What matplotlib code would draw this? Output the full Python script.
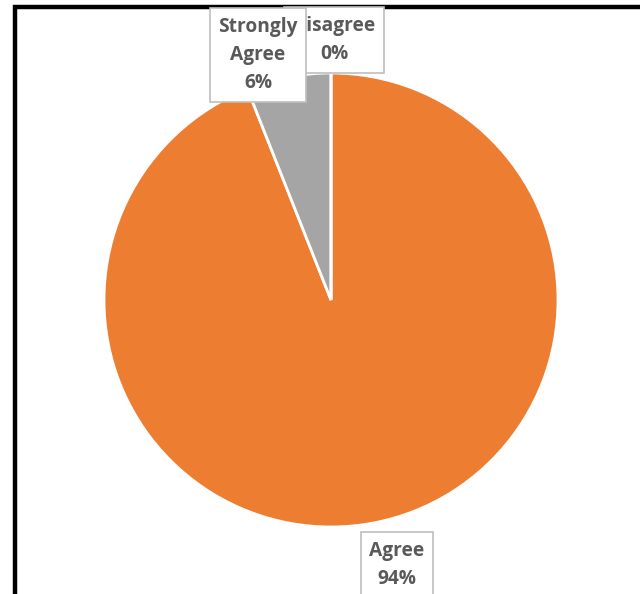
import matplotlib
matplotlib.use("Agg")
import matplotlib.pyplot as plt
from matplotlib.patches import Rectangle

# --- data ---
categories = ["Agree", "Strongly Agree", "Disagree"]
percents = [94, 6, 0]
colors = ["#ED7D31", "#A5A5A5", "#5B9BD5"]

# label box centres (pixel coords, y from top)
label_pos = {
    "Agree": (397, 565),
    "Strongly Agree": (258, 55),
    "Disagree": (334, 40),
}

W, H = 640, 594
fig = plt.figure(figsize=(W / 100, H / 100), dpi=100)
ax = fig.add_axes([0, 0, 1, 1])

ax.pie(percents, colors=colors, startangle=90, counterclock=False,
       radius=227, center=(331, H - 300), frame=True,
       wedgeprops=dict(edgecolor="white", linewidth=2))
ax.set_xlim(0, W)
ax.set_ylim(0, H)
ax.set_aspect("equal")
ax.axis("off")

# outer chart border (right and bottom cut off)
ax.add_patch(Rectangle((15, -20), W + 20, H - 7 + 20, fill=False,
                       edgecolor="black", linewidth=3.2, clip_on=False))

bbox = dict(boxstyle="square,pad=0.45", facecolor="white", edgecolor="#BFBFBF", linewidth=1.2)
# draw Disagree first so Strongly Agree covers it
for name in ["Disagree", "Strongly Agree", "Agree"]:
    pct = percents[categories.index(name)]
    x, y = label_pos[name]
    txt = name.replace(" ", "\n") if name == "Strongly Agree" else name
    ax.text(x, H - y, f"{txt}\n{pct}%", ha="center", va="center",
            fontsize=13.8, fontweight="bold", color="#595959",
            family="Open Sans", linespacing=1.55, bbox=bbox)

fig.savefig("out.png", dpi=100)
